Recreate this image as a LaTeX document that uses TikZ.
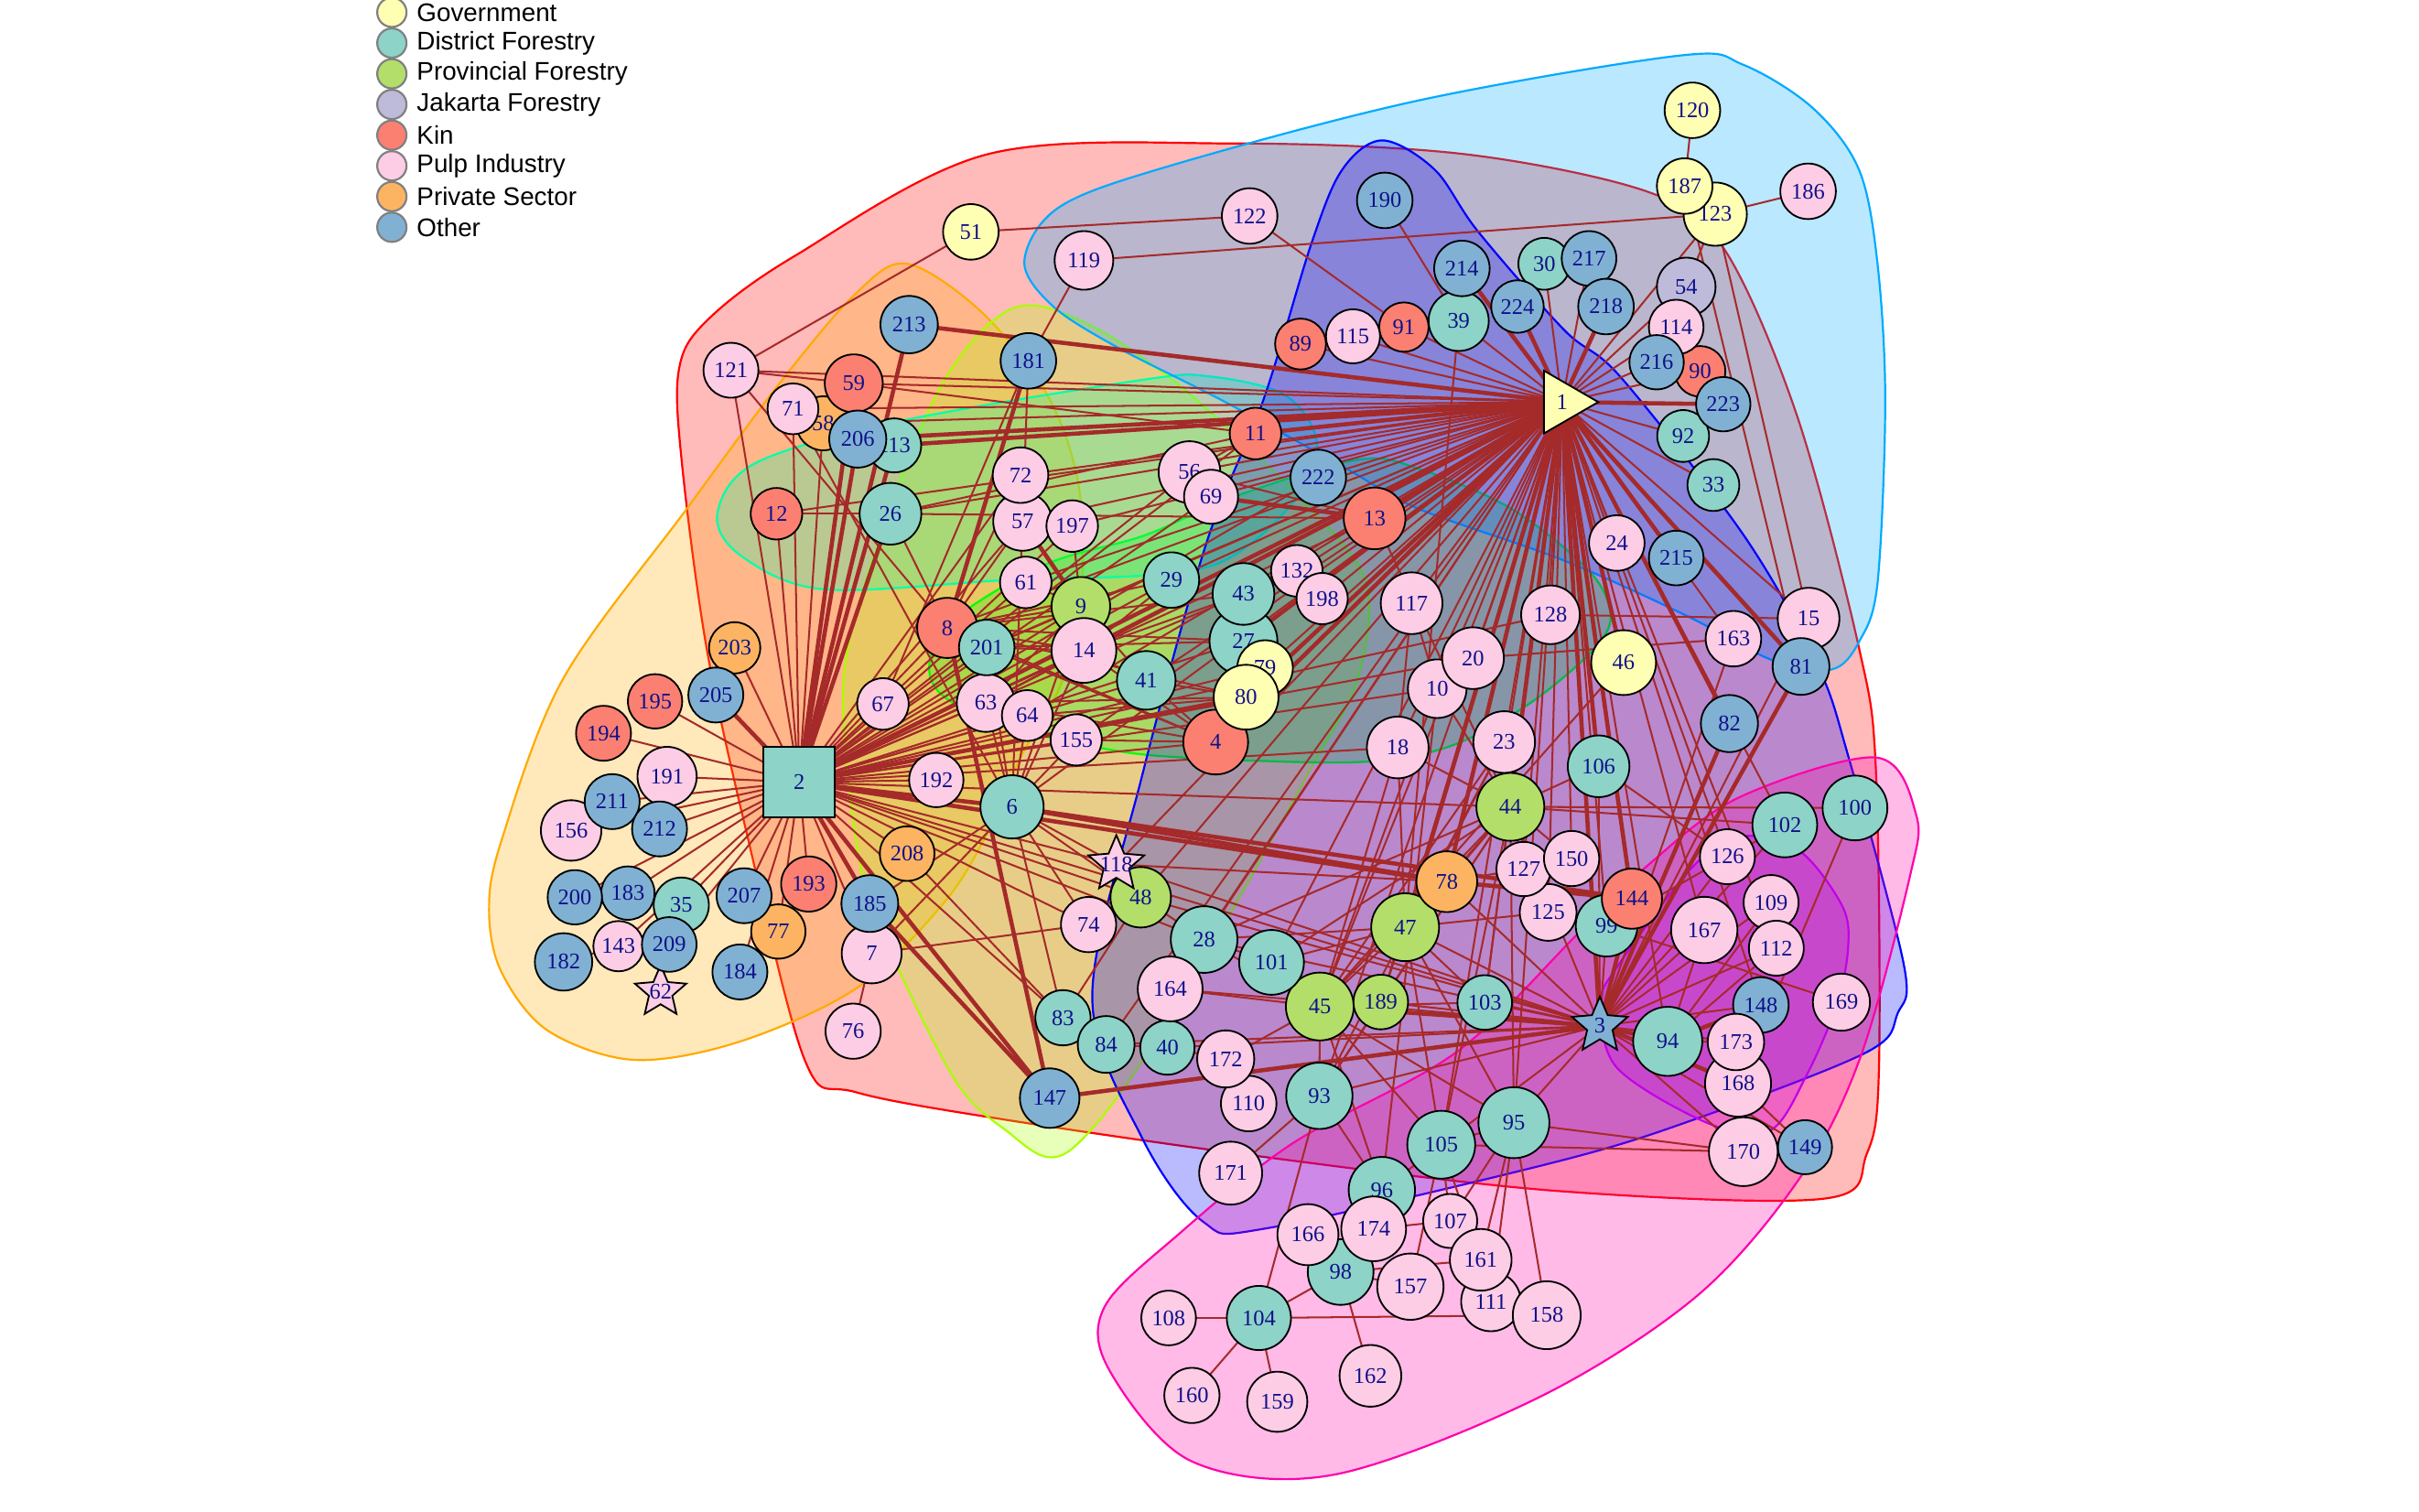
\documentclass[tikz,border=0pt]{standalone}
\usepackage{fontspec}
\setmainfont{Liberation Serif}
\newfontfamily\legendfont{Liberation Sans}
\usetikzlibrary{shapes.geometric}
\pgfdeclarelayer{hulls}
\pgfdeclarelayer{ties}
\pgfsetlayers{hulls,ties,main}

\definecolor{govcol}{HTML}{FFFFB3}
\definecolor{distcol}{HTML}{8DD3C7}
\definecolor{provcol}{HTML}{B3DE69}
\definecolor{jakcol}{HTML}{BEBADA}
\definecolor{kincol}{HTML}{FB8072}
\definecolor{pulpcol}{HTML}{FCCDE5}
\definecolor{privcol}{HTML}{FDB462}
\definecolor{othcol}{HTML}{80B1D3}
\definecolor{tiecol}{HTML}{A52A2A}
\definecolor{labcol}{HTML}{10108A}
\definecolor{rbred}{HTML}{FF0000}
\definecolor{rborange}{HTML}{FFAA00}
\definecolor{rbchart}{HTML}{AAFF00}
\definecolor{rbgreen}{HTML}{00FF00}
\definecolor{rbspring}{HTML}{00FFAA}
\definecolor{rbazure}{HTML}{00AAFF}
\definecolor{rbblue}{HTML}{0000FF}
\definecolor{rbviolet}{HTML}{AA00FF}
\definecolor{rbmagenta}{HTML}{FF00AA}

\tikzset{
  vtx/.style={circle, draw=black, line width=1.1pt, inner sep=0pt, text=labcol,
    font=\fontsize{14.5}{14.5}\selectfont},
  gov/.style={vtx, fill=govcol},
  dist/.style={vtx, fill=distcol},
  prov/.style={vtx, fill=provcol},
  jak/.style={vtx, fill=jakcol},
  kin/.style={vtx, fill=kincol},
  pulp/.style={vtx, fill=pulpcol},
  priv/.style={vtx, fill=privcol},
  oth/.style={vtx, fill=othcol},
  govtri/.style={vtx, regular polygon, regular polygon sides=3, shape border rotate=-90, fill=govcol},
  distsq/.style={vtx, rectangle, fill=distcol},
  othstar/.style={vtx, star, star points=5, star point ratio=2.2, inner sep=-9pt, fill=othcol},
  pulpstar/.style={vtx, star, star points=5, star point ratio=2.2, inner sep=-9pt, fill=pulpcol},
  tie/.style={draw=tiecol, line width=1.2pt},
  strongtie/.style={draw=tiecol, line width=2.7pt},
  hull/.style={draw=#1, line width=1.3pt, fill=#1, fill opacity=0.27},
  legdot/.style={circle, draw=gray, line width=1.3pt, inner sep=0pt, minimum size=19pt},
  legtext/.style={anchor=west, inner sep=0pt, font=\legendfont\fontsize{16.5}{16.5}\selectfont}
}

\begin{document}
\begin{tikzpicture}[x=1pt, y=-1pt]
  \useasboundingbox (0,0) rectangle (1568,980);

  % vertices, in the order they are drawn
  \foreach \n/\x/\y/\r/\s in {
    1/1012.5/260.6/23.5/govtri, 2/518/507/23/distsq, 3/1037/665/19/othstar,
    4/788/481/21/kin, 6/656/523/20.5/dist, 7/565/618/19.4/pulp, 8/614/407/19.5/kin,
    9/700.6/393/19/prov, 10/931.6/446.4/19/pulp, 11/813.8/281/16.7/kin,
    12/503.3/333/16.7/kin, 13/891/336/20/kin, 14/702.6/421.6/21/pulp,
    15/1172.3/401/20/pulp, 18/906/484.5/20/pulp, 20/954.8/426.6/20/pulp,
    23/975/481/20/pulp, 24/1048/352/18/pulp, 26/577.2/333/20/dist,
    27/806/415.6/22/dist, 28/780.5/609/21.6/dist, 29/759.3/376/18/dist,
    30/1001/171/16.8/dist, 33/1110.6/314.4/16.8/dist, 35/441.6/586.7/17.9/dist,
    39/945.5/208/19.5/dist, 40/756.7/679/17.6/dist, 41/743/441/19/dist,
    43/806/385/20/dist, 44/979/523/22/prov, 45/855.5/652.4/22/prov,
    46/1052.4/429.5/21/gov, 47/910.8/601/22/prov, 48/739.4/581.6/19.6/prov,
    51/629.3/150.3/18/gov, 54/1093/186/19/jak, 56/771/306/20/pulp,
    57/662.8/338/19/pulp, 58/533.6/274.4/17.5/priv, 59/553.4/248.5/18.8/kin,
    61/664.9/377.5/16.7/pulp, 62/428.2/643/17.5/pulpstar, 63/639/455.6/18.8/pulp,
    64/665.9/463.8/16.5/pulp, 67/572.3/456.3/16.7/pulp, 69/785/322/17.5/pulp,
    71/514/265/16.5/pulp, 72/661.5/308/18/pulp, 74/705.6/599.3/17.9/pulp,
    76/553/668.4/17.9/pulp, 77/504.5/603.8/17.6/priv, 78/937.8/571.5/19.7/priv,
    79/820/433/18/gov, 80/807.7/451.9/21/gov, 81/1167.4/432/18.4/oth,
    82/1121/469/18.5/oth, 83/689/659.7/17.9/dist, 84/717/677/18.4/dist,
    89/843/223/16.5/kin, 90/1102/240.7/16.4/kin, 91/910/212/16/kin,
    92/1091/282.6/16.8/dist, 93/855.2/710.3/21.5/dist, 94/1081/675/22.4/dist,
    95/981.3/727.7/23/dist, 96/895.7/771.4/21.5/dist, 98/869/824.5/21.3/dist,
    99/1041.4/600/20/dist, 100/1202.4/523.7/21/dist, 101/824.2/623.8/21/dist,
    102/1156.9/534.7/21/dist, 103/962.4/649.8/17.7/dist, 104/816/854.3/20.8/dist,
    105/934.2/742/22/dist, 106/1036.2/496.7/20/dist, 107/940/791.4/17.5/pulp,
    108/757.5/854.3/17.7/pulp, 109/1148/585/17.8/pulp, 110/809.4/715.3/18/pulp,
    111/966.4/843.6/19.3/pulp, 112/1151.4/614.6/17.8/pulp, 113/579.6/288.7/17.5/dist,
    114/1086.5/212/17.7/pulp, 115/877/218/17.5/pulp, 117/915/391/20/pulp,
    118/723.6/560.3/19/pulpstar, 119/702.6/168.8/19/pulp, 120/1097/71.5/18/gov,
    121/473.8/240/17.8/pulp, 122/810/140/18/pulp, 123/1111.8/138.8/20.5/gov,
    125/1003.5/591.4/18.4/pulp, 126/1119.7/555.3/17.8/pulp, 127/987.6/563.3/17.6/pulp,
    128/1005/398.5/19/pulp, 132/840.6/370/16.7/pulp, 143/400.9/613.3/16.3/pulp,
    144/1057.8/582.5/19.5/kin, 147/680.4/711.8/19.3/oth, 148/1141.4/651.4/18/oth,
    149/1170/743.6/17.5/oth, 150/1018.7/556.5/17.9/pulp, 155/697.6/479.6/16.6/pulp,
    156/370.2/538.3/19.6/pulp, 157/914.2/834/21.5/pulp, 158/1002.6/852.5/22/pulp,
    159/827.9/908.6/19.5/pulp, 160/772.6/904.5/17.9/pulp, 161/959.8/816.6/20/pulp,
    162/888.3/891.8/20/pulp, 163/1123.6/414/18/pulp, 164/758.5/641/21/pulp,
    166/847.8/800.3/19.8/pulp, 167/1104.7/602.8/21.5/pulp, 168/1126.6/702.4/21.4/pulp,
    169/1193.6/649.6/18.5/pulp, 170/1130/746.5/22.3/pulp, 171/797.7/760.4/20.4/pulp,
    172/794.5/686.4/18.5/pulp, 173/1125.2/675.4/18.3/pulp, 174/890.4/796.5/21/pulp,
    181/666.6/233.9/18/oth, 182/365.3/623.5/18.6/oth, 183/407/578.9/17.3/oth,
    184/479.6/630/17.8/oth, 185/563.8/585.7/18.4/oth, 186/1172/124/18/pulp,
    187/1092/120.6/18/gov, 189/895/649.5/17.7/prov, 190/897.6/129.9/18/oth,
    191/432.4/503.3/19.2/pulp, 192/606.9/505.6/17.6/pulp, 193/524.2/573/17.9/kin,
    194/391.2/475.3/17.8/kin, 195/424.6/454.6/17.6/kin, 197/695/341/16.7/pulp,
    198/857/388/16.6/pulp, 200/372.6/581.6/17.6/oth, 201/639.6/419.7/18/dist,
    203/476.2/419.9/16.6/priv, 205/464/450.5/17.8/oth, 206/556/284.6/18.5/oth,
    207/482.3/580.6/17.8/oth, 208/588/553.3/17.7/priv, 209/433.8/612.2/17.7/oth,
    211/396.8/519.6/17.8/oth, 212/427.5/537.3/17.8/oth, 213/589.3/210.4/18.6/oth,
    214/947.6/174/18/oth, 215/1086.5/361.7/17.7/oth, 216/1073.8/234.8/17.6/oth,
    217/1030/167.5/17.7/oth, 218/1041/198.7/18/oth, 222/854.5/309.5/18/oth,
    223/1117/262/17.6/oth, 224/983.6/198.7/17/oth}
    \node[\s, minimum size=2*\r] (n\n) at (\x,\y) {\n};

  % group hulls
  \begin{pgfonlayer}{hulls}
    \draw[hull=rbred] plot[smooth cycle, tension=0.55] coordinates {
      (442,300) (440,240) (458,208) (515,166) (640,100) (800,93) (950,100) (1070,125)
      (1118,162) (1165,270) (1205,420) (1216,500) (1218,690) (1210,748) (1182,777)
      (1010,772) (820,750) (653,726) (555,708) (522,688) (484,540) (458,420)};
    \draw[hull=rborange] plot[smooth cycle, tension=0.55] coordinates {
      (588,171) (637,203) (680,258) (700,320) (700,400) (685,450) (662,490) (640,540)
      (612,585) (556,640) (480,675) (411,687) (355,668) (325,630) (317,590) (325,545)
      (365,440) (445,330) (508,245) (555,190)};
    \draw[hull=rbchart] plot[smooth cycle, tension=0.55] coordinates {
      (656,200) (705,210) (767,252) (840,320) (885,376) (880,440) (852,494) (797,593)
      (737,693) (700,740) (679,750) (655,735) (619,700) (570,600) (554,540) (547,438)
      (570,350) (610,250)};
    \draw[hull=rbgreen] plot[smooth cycle, tension=0.55] coordinates {
      (603,427) (623,398) (680,365) (742,347) (800,322) (880,298) (920,304) (980,330)
      (1030,370) (1044,399) (1032,422) (990,457) (939,484) (880,494) (767,491)
      (714,485) (650,470) (610,450)};
    \draw[hull=rbspring] plot[smooth cycle, tension=0.55] coordinates {
      (465,333) (490,300) (583,273) (742,246) (784,244) (831,255) (852,280) (850,308)
      (825,340) (790,365) (742,373) (653,376) (534,382) (480,360)};
    \draw[hull=rbazure] plot[smooth cycle, tension=0.55] coordinates {
      (664,169) (687,134) (760,107) (920,65) (1089,36) (1130,42) (1175,70) (1205,110)
      (1217,171) (1222,260) (1217,378) (1205,416) (1187,434) (1149,428) (1093,399)
      (1013,363) (920,330) (873,304) (795,261) (724,225) (682,198)};
    \draw[hull=rbblue] plot[smooth cycle, tension=0.55] coordinates {
      (896,91) (930,110) (958,150) (1014,214) (1051,245) (1131,348) (1178,431)
      (1198,490) (1234,625) (1230,657) (1210,682) (1100,725) (1009,753) (822,796)
      (780,792) (740,737) (708,646) (740,504) (782,352) (819,259) (850,158) (870,110)};
    \draw[hull=rbviolet] plot[smooth cycle, tension=0.55] coordinates {
      (1038,650) (1048,627) (1098,561) (1131,542) (1167,552) (1194,587) (1198,613)
      (1191,650) (1171,697) (1147,733) (1107,728) (1048,692)};
    \draw[hull=rbmagenta] plot[smooth cycle, tension=0.55] coordinates {
      (1023,605) (1068,561) (1127,517) (1216,491) (1242,528) (1238,568) (1206,685)
      (1167,763) (1100,840) (997,906) (864,956) (772,947) (719,888) (716,847)
      (764,800) (838,741) (944,682)};
  \end{pgfonlayer}

  % ties
  \begin{pgfonlayer}{ties}
    \foreach \t in {30,217,39,54,114,216,90,92,33,24,15,163,128,23,20,10,18,99,45,189,
        103,95,105,93,101,28,48,118,6,79,43,29,132,198,117,222,69,56,89,115,91,72,57,
        197,61,9,201,8,41,63,64,155,26,12,59,121,71,58,102,126,125,127,150,167,94,112,
        148,164,84,123}
      \draw[tie] (n1.center) -- (n\t.center);
    \foreach \t in {121,71,12,58,203,195,194,191,211,212,156,200,183,35,209,143,207,
        184,77,193,7,208,192,67,8,201,63,64,14,155,9,41,29,43,27,79,4,72,57,61,3,118,
        48,83,74,28,44,11,56,69,197,13,20,10,18,128,222}
      \draw[tie] (n2.center) -- (n\t.center);
    \foreach \t in {99,148,173,170,149,78,189,103,47,44,106,15,163,28,48,167,112,109,
        126,102,93,105,95,84,40,118,164}
      \draw[tie] (n3.center) -- (n\t.center);
    \foreach \a/\b in {51/121,51/122,122/91,119/123,119/181,190/39,120/187,187/123,
        123/186,123/54,123/15,187/81,121/8,71/6,12/26,26/8,26/13,181/67,181/6,72/8,
        57/8,197/9,61/9,9/14,9/201,9/8,9/6,9/63,9/41,14/6,14/8,14/201,14/63,14/41,
        14/4,14/43,14/29,201/6,201/4,201/27,63/6,63/4,63/80,64/6,64/80,155/6,155/4,
        41/4,41/80,8/4,8/80,8/29,8/43,8/27,11/56,11/26,59/11,13/56,39/47,15/128,
        163/20,15/81,46/45,44/106,44/102,44/100,44/127,44/150,44/125,44/78,44/47,
        44/45,44/18,44/10,44/23,44/93,44/189,44/103,44/101,44/28,44/95,44/105,44/13,
        23/45,23/47,23/93,18/45,18/47,10/45,10/96,117/18,117/10,100/168,102/99,
        126/106,127/78,127/125,125/47,125/99,99/169,99/144,167/94,109/94,112/94,
        173/94,168/149,170/95,170/105,78/47,78/118,47/45,47/189,47/95,47/105,47/103,
        47/101,47/28,45/189,45/101,45/28,45/93,45/96,45/105,45/95,45/164,45/172,
        189/93,103/45,101/28,28/48,28/164,48/118,48/6,48/83,118/6,74/7,74/6,164/40,
        83/84,83/6,208/83,84/40,172/110,172/40,93/104,93/171,93/96,105/95,105/161,
        105/157,105/107,95/161,95/158,95/111,95/107,96/174,96/98,96/105,174/98,
        174/107,166/98,98/104,98/162,98/157,98/161,161/158,161/111,104/108,104/160,
        104/159,104/158,76/7,143/182,62/209,35/183,6/7,6/185,121/59,4/80}
      \draw[tie] (n\a.center) -- (n\b.center);
    \foreach \a/\b in {1/2,1/213,1/206,1/113,1/11,1/13,1/4,1/80,1/14,1/224,1/214,
        1/218,1/223,1/215,1/82,1/81,1/46,1/44,1/106,1/144,1/3,1/47,1/78,1/27,
        2/6,2/213,2/206,2/113,2/59,2/205,2/185,2/147,2/78,2/80,2/26,
        3/81,3/82,3/144,3/94,3/168,3/45,3/147,6/78,6/144,8/181,8/147,185/147,
        57/9,78/144,94/148,13/69}
      \draw[strongtie] (n\a.center) -- (n\b.center);
  \end{pgfonlayer}

  % legend
  \foreach \i/\c/\t in {1/govcol/Government, 2/distcol/District Forestry,
      3/provcol/Provincial Forestry, 4/jakcol/Jakarta Forestry, 5/kincol/Kin,
      6/pulpcol/Pulp Industry, 7/privcol/Private Sector, 8/othcol/Other} {
    \node[legdot, fill=\c] (lg\i) at (254,{8+19.9*(\i-1)}) {};
    \node[legtext] (lt\i) at (270,{8+19.9*(\i-1)}) {\t};
  }
\end{tikzpicture}
\end{document}
